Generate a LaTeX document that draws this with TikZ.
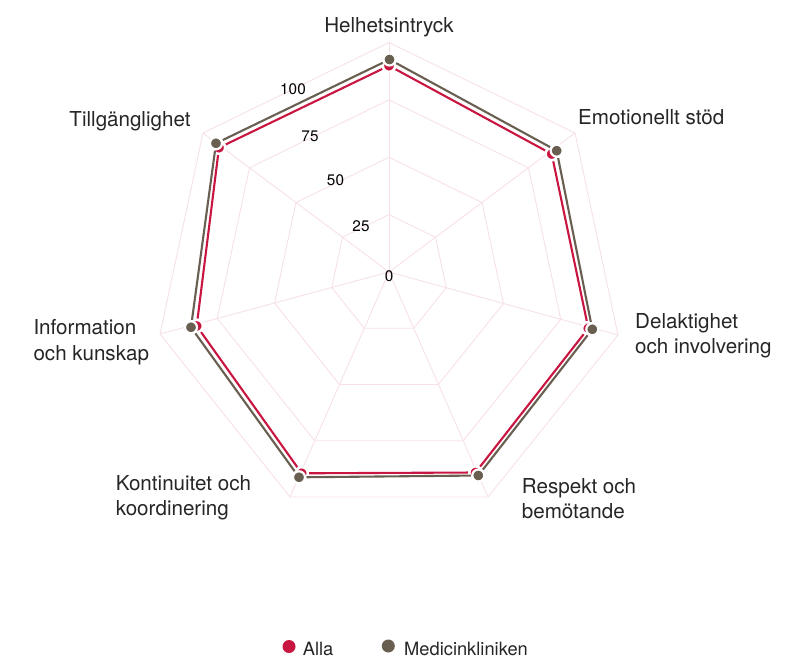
\documentclass[tikz,border=0pt]{standalone}
\usepackage{fontspec}
\setmainfont{TeX Gyre Heros}
\usetikzlibrary{calc}
\definecolor{allared}{RGB}{200,22,64}
\definecolor{medbrown}{RGB}{104,95,80}
\definecolor{gridpink}{RGB}{247,225,231}
\definecolor{txt}{RGB}{38,38,38}
\tikzset{
  gridline/.style={draw=gridpink, line width=0.9pt},
  allaline/.style={draw=allared, line width=2.1pt, shorten <=7.5pt, shorten >=7.5pt},
  medline/.style={draw=medbrown, line width=2.1pt, shorten <=7.5pt, shorten >=7.5pt},
  allamark/.style={circle, fill=allared, draw=white, line width=2.2pt, minimum size=12pt, inner sep=0pt},
  medmark/.style={circle, fill=medbrown, draw=white, line width=2.2pt, minimum size=12pt, inner sep=0pt},
  catlabel/.style={font=\fontsize{20.6}{24}\selectfont, text=txt, inner sep=0pt},
  ticklabel/.style={font=\fontsize{15.3}{18}\selectfont, text=black, inner sep=0pt},
  leglabel/.style={font=\fontsize{18.3}{22}\selectfont, text=txt, inner sep=0pt, anchor=base west},
}
\begin{document}
\begin{tikzpicture}[x=1pt,y=-1pt]
\useasboundingbox[fill=white] (0,0) rectangle (785,659);
% axes geometry
\coordinate (C) at (389,272);
\coordinate (V0) at (389,42.5);
\coordinate (V1) at (575,133);
\coordinate (V2) at (618,335);
\coordinate (V3) at (488,497);
\coordinate (V4) at (290,497);
\coordinate (V5) at (160,334);
\coordinate (V6) at (203,133);
% grid rings
\foreach \f in {0.25,0.5,0.75,1}{
  \draw[gridline] ($(C)!\f!(V0)$) -- ($(C)!\f!(V1)$) -- ($(C)!\f!(V2)$) -- ($(C)!\f!(V3)$)
     -- ($(C)!\f!(V4)$) -- ($(C)!\f!(V5)$) -- ($(C)!\f!(V6)$) -- cycle;
}
% spokes
\foreach \i in {0,...,6}{ \draw[gridline] (C) -- (V\i); }
% tick labels
\node[ticklabel] (t100) at (293,89) {100};
\node[ticklabel] (t75) at (310,136.5) {75};
\node[ticklabel] (t50) at (335.5,180.5) {50};
\node[ticklabel] (t25) at (361,226.5) {25};
\node[ticklabel] (t0) at (389,276.5) {0};
% data points
\coordinate (A0) at (389,65.7);
\coordinate (A1) at (551.7,154);
\coordinate (A2) at (588.3,328.3);
\coordinate (A3) at (475.5,472.5);
\coordinate (A4) at (301.7,473.3);
\coordinate (A5) at (196.7,326);
\coordinate (A6) at (219,147.7);
\coordinate (M0) at (389.5,59.5);
\coordinate (M1) at (556.7,150.7);
\coordinate (M2) at (592.3,329.3);
\coordinate (M3) at (478.3,475.5);
\coordinate (M4) at (299,477.3);
\coordinate (M5) at (191,327.3);
\coordinate (M6) at (216,143.3);
% Alla series
\foreach \i/\j in {0/1,1/2,2/3,3/4,4/5,5/6,6/0}{ \draw[allaline] (A\i) -- (A\j); }
\foreach \i in {0,...,6}{ \node[allamark] (am\i) at (A\i) {}; }
% Medicinkliniken series
\foreach \i/\j in {0/1,1/2,2/3,3/4,4/5,5/6,6/0}{ \draw[medline] (M\i) -- (M\j); }
\foreach \i in {0,...,6}{ \node[medmark] (mm\i) at (M\i) {}; }
% category labels
\node[catlabel, anchor=base] (c0) at (389,32) {Helhetsintryck};
\node[catlabel, anchor=base west] (c1) at (578,124) {Emotionellt stöd};
\node[catlabel, anchor=base west] (c2a) at (635,328) {Delaktighet};
\node[catlabel, anchor=base west] (c2b) at (635,353.5) {och involvering};
\node[catlabel, anchor=base west] (c3a) at (521.7,493.3) {Respekt och};
\node[catlabel, anchor=base west] (c3b) at (521.7,518.5) {bemötande};
\node[catlabel, anchor=base west] (c4a) at (115.7,490) {Kontinuitet och};
\node[catlabel, anchor=base west] (c4b) at (115.7,515.5) {koordinering};
\node[catlabel, anchor=base west] (c5a) at (33.3,334.3) {Information};
\node[catlabel, anchor=base west] (c5b) at (33.3,360) {och kunskap};
\node[catlabel, anchor=base east] (c6) at (190.7,126) {Tillgänglighet};
% legend
\node[circle, fill=allared, minimum size=13pt, inner sep=0pt] (ld1) at (289,646.5) {};
\node[leglabel] (ll1) at (302.7,655) {Alla};
\node[circle, fill=medbrown, minimum size=13pt, inner sep=0pt] (ld2) at (388.3,646) {};
\node[leglabel] (ll2) at (404,655) {Medicinkliniken};
\end{tikzpicture}
\end{document}
